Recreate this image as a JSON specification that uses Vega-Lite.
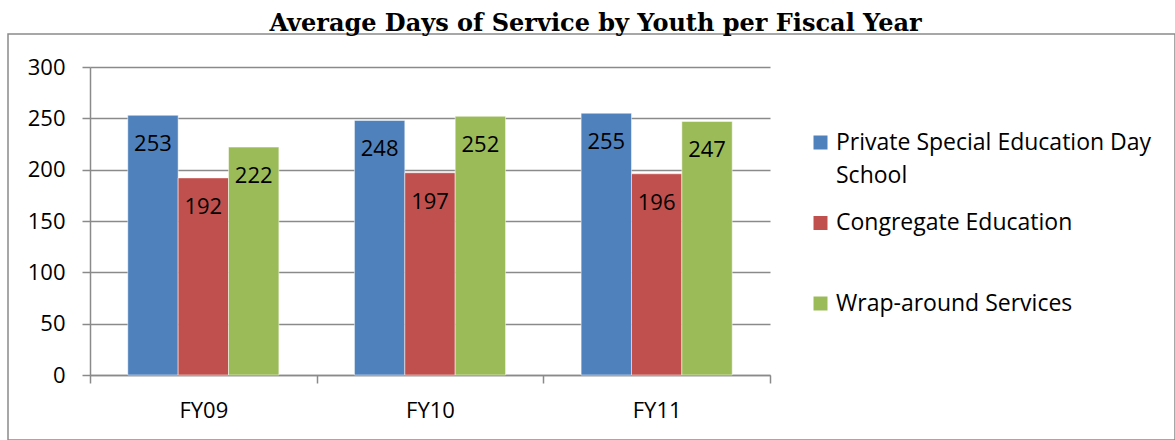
{
  "$schema": "https://vega.github.io/schema/vega-lite/v6.json",
  "autosize": {"type": "none"},
  "padding": {"left": 8, "top": 34, "right": 0, "bottom": 0},
  "width": 1167,
  "height": 406,
  "title": {
    "text": "Average Days of Service by Youth per Fiscal Year",
    "font": "DejaVu Serif",
    "fontSize": 24,
    "fontWeight": "bold",
    "color": "#000000",
    "anchor": "middle",
    "baseline": "alphabetic",
    "offset": -21,
    "dx": 4
  },
  "config": {
    "view": {"stroke": "#8a8a8a", "strokeWidth": 1.5},
    "font": "Open Sans",
    "style": {"guide-label": {"lineHeight": 33}}
  },
  "data": {
    "values": [
      {"year": "FY09", "series": "Private Special Education Day School", "days": 253},
      {"year": "FY09", "series": "Congregate Education", "days": 192},
      {"year": "FY09", "series": "Wrap-around Services", "days": 222},
      {"year": "FY10", "series": "Private Special Education Day School", "days": 248},
      {"year": "FY10", "series": "Congregate Education", "days": 197},
      {"year": "FY10", "series": "Wrap-around Services", "days": 252},
      {"year": "FY11", "series": "Private Special Education Day School", "days": 255},
      {"year": "FY11", "series": "Congregate Education", "days": 196},
      {"year": "FY11", "series": "Wrap-around Services", "days": 247}
    ]
  },
  "encoding": {
    "x": {
      "field": "year",
      "type": "nominal",
      "scale": {"range": [82, 762], "paddingInner": 0, "paddingOuter": 0},
      "axis": {
        "title": null,
        "orient": "bottom",
        "offset": -65,
        "labelAngle": 0,
        "labelFont": "Open Sans",
        "labelFontSize": 22,
        "labelColor": "#000000",
        "labelPadding": 17,
        "tickBand": "extent",
        "tickSize": 8,
        "tickColor": "#8a8a8a",
        "tickWidth": 1.5,
        "domainColor": "#8a8a8a",
        "domainWidth": 1.5,
        "grid": false
      }
    },
    "xOffset": {
      "field": "series",
      "type": "nominal",
      "sort": ["Private Special Education Day School", "Congregate Education", "Wrap-around Services"],
      "scale": {"paddingInner": 0, "paddingOuter": 0.75}
    },
    "y": {
      "field": "days",
      "type": "quantitative",
      "scale": {"domain": [0, 300], "range": [341, 33], "nice": false},
      "axis": {
        "title": null,
        "offset": -82,
        "values": [0, 50, 100, 150, 200, 250, 300],
        "labelFont": "Open Sans",
        "labelFontSize": 22,
        "labelColor": "#000000",
        "labelPadding": 17,
        "tickSize": 8,
        "tickColor": "#8a8a8a",
        "tickWidth": 1.5,
        "domainColor": "#8a8a8a",
        "domainWidth": 1.5,
        "grid": true,
        "gridColor": "#8a8a8a",
        "gridWidth": 1.5
      }
    }
  },
  "layer": [
    {
      "mark": {"type": "bar", "stroke": "#ffffff", "strokeOpacity": 0.5, "strokeWidth": 1},
      "encoding": {
        "color": {
          "field": "series",
          "type": "nominal",
          "scale": {
            "domain": ["Private Special Education Day School", "Congregate Education", "Wrap-around Services"],
            "range": ["#4F81BD", "#C0504D", "#9BBB59"]
          },
          "legend": {
            "title": null,
            "orient": "none",
            "legendX": 801,
            "legendY": 97,
            "padding": 0,
            "symbolType": "square",
            "symbolSize": 196,
            "symbolStrokeWidth": 0,
            "labelFont": "Open Sans",
            "labelFontSize": 23,
            "labelColor": "#000000",
            "labelOffset": 4,
            "labelLimit": 400,
            "rowPadding": 23.5,
            "labelExpr": "datum.label == 'Private Special Education Day School' ? ['Private Special Education Day', 'School'] : [datum.label, ' ']",
            "encode": {
              "labels": {"lineHeight": {"value": 33}}
            }
          }
        }
      }
    },
    {
      "mark": {"type": "text", "baseline": "middle", "dy": 29, "fontSize": 22, "font": "Open Sans", "color": "#000000"},
      "encoding": {"text": {"field": "days", "type": "quantitative"}}
    }
  ]
}
